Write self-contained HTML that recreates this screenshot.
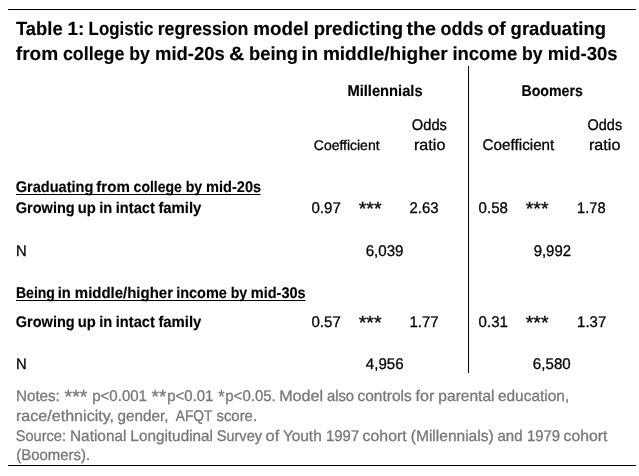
<!DOCTYPE html>
<html lang="en">
<head>
<meta charset="utf-8">
<title>Table 1: Logistic regression model</title>
<style>
html,body{margin:0;padding:0;background:#fff;}
svg{display:block;}
text{font-family:"Liberation Sans",sans-serif;white-space:pre;text-rendering:geometricPrecision;stroke-width:0.3px;stroke-linejoin:round;}
.b{font-weight:bold;stroke-width:0.15px;}
</style>
</head>
<body>
<svg width="639" height="476" viewBox="0 0 639 476">
<rect x="0" y="0" width="639" height="476" fill="#ffffff"/>
<rect x="8" y="9" width="628" height="1" fill="#000"/>
<rect x="8" y="465" width="628" height="1" fill="#000"/>
<rect x="468" y="66" width="1" height="307" fill="#000"/>
<rect x="16" y="194" width="244.5" height="1" fill="#000"/>
<rect x="16" y="300" width="289.5" height="1" fill="#000"/>
<text class="b" font-size="19" fill="#000" stroke="#000" xml:space="preserve"><tspan x="16" y="35" textLength="46.61" lengthAdjust="spacingAndGlyphs">Table</tspan> <tspan x="67.61" y="35" textLength="16.79" lengthAdjust="spacingAndGlyphs">1:</tspan> <tspan x="88.57" y="35" textLength="64.79" lengthAdjust="spacingAndGlyphs">Logistic</tspan> <tspan x="157.67" y="35" textLength="90.76" lengthAdjust="spacingAndGlyphs">regression</tspan> <tspan x="253.29" y="35" textLength="55.35" lengthAdjust="spacingAndGlyphs">model</tspan> <tspan x="313.63" y="35" textLength="89.34" lengthAdjust="spacingAndGlyphs">predicting</tspan> <tspan x="406.4" y="35" textLength="29.66" lengthAdjust="spacingAndGlyphs">the</tspan> <tspan x="440.55" y="35" textLength="42.93" lengthAdjust="spacingAndGlyphs">odds</tspan> <tspan x="487.51" y="35" textLength="18.33" lengthAdjust="spacingAndGlyphs">of</tspan> <tspan x="510.61" y="35" textLength="95.34" lengthAdjust="spacingAndGlyphs">graduating</tspan></text>
<text class="b" font-size="19" fill="#000" stroke="#000" xml:space="preserve"><tspan x="15.82" y="60" textLength="42.46" lengthAdjust="spacingAndGlyphs">from</tspan> <tspan x="62.95" y="60" textLength="61.52" lengthAdjust="spacingAndGlyphs">college</tspan> <tspan x="129.15" y="60" textLength="20.62" lengthAdjust="spacingAndGlyphs">by</tspan> <tspan x="155" y="60" textLength="69.71" lengthAdjust="spacingAndGlyphs">mid-20s</tspan> <tspan x="228.92" y="60" textLength="15.34" lengthAdjust="spacingAndGlyphs">&amp;</tspan> <tspan x="249" y="60" textLength="48.96" lengthAdjust="spacingAndGlyphs">being</tspan> <tspan x="301.53" y="60" textLength="16.42" lengthAdjust="spacingAndGlyphs">in</tspan> <tspan x="322.88" y="60" textLength="124.91" lengthAdjust="spacingAndGlyphs">middle/higher</tspan> <tspan x="452.39" y="60" textLength="64.82" lengthAdjust="spacingAndGlyphs">income</tspan> <tspan x="522" y="60" textLength="20.61" lengthAdjust="spacingAndGlyphs">by</tspan> <tspan x="547.69" y="60" textLength="69.8" lengthAdjust="spacingAndGlyphs">mid-30s</tspan></text>
<text class="b" font-size="15.5" fill="#000" stroke="#000" xml:space="preserve"><tspan x="347.44" y="96" textLength="75.19" lengthAdjust="spacingAndGlyphs">Millennials</tspan></text>
<text class="b" font-size="15.5" fill="#000" stroke="#000" xml:space="preserve"><tspan x="521.46" y="96" textLength="61.41" lengthAdjust="spacingAndGlyphs">Boomers</tspan></text>
<text font-size="15.4" fill="#000" stroke="#000" xml:space="preserve"><tspan x="411.84" y="130" textLength="35.11" lengthAdjust="spacingAndGlyphs">Odds</tspan></text>
<text font-size="15.4" fill="#000" stroke="#000" xml:space="preserve"><tspan x="414" y="150" textLength="31.36" lengthAdjust="spacingAndGlyphs">ratio</tspan></text>
<text font-size="14" fill="#000" stroke="#000" xml:space="preserve"><tspan x="313.8" y="150" textLength="65.76" lengthAdjust="spacingAndGlyphs">Coefficient</tspan></text>
<text font-size="15.4" fill="#000" stroke="#000" xml:space="preserve"><tspan x="482.58" y="150" textLength="71.76" lengthAdjust="spacingAndGlyphs">Coefficient</tspan></text>
<text font-size="15.4" fill="#000" stroke="#000" xml:space="preserve"><tspan x="587.6" y="130" textLength="34.53" lengthAdjust="spacingAndGlyphs">Odds</tspan></text>
<text font-size="15.4" fill="#000" stroke="#000" xml:space="preserve"><tspan x="589" y="150" textLength="31.35" lengthAdjust="spacingAndGlyphs">ratio</tspan></text>
<text class="b" font-size="15.5" fill="#000" stroke="#000" xml:space="preserve"><tspan x="15.73" y="192" textLength="77.69" lengthAdjust="spacingAndGlyphs">Graduating</tspan> <tspan x="96.3" y="192" textLength="33.5" lengthAdjust="spacingAndGlyphs">from</tspan> <tspan x="133.61" y="192" textLength="48.24" lengthAdjust="spacingAndGlyphs">college</tspan> <tspan x="185.64" y="192" textLength="16.5" lengthAdjust="spacingAndGlyphs">by</tspan> <tspan x="206" y="192" textLength="55.12" lengthAdjust="spacingAndGlyphs">mid-20s</tspan></text>
<text class="b" font-size="15.5" fill="#000" stroke="#000" xml:space="preserve"><tspan x="15.73" y="213" textLength="58.99" lengthAdjust="spacingAndGlyphs">Growing</tspan> <tspan x="77.7" y="213" textLength="18.07" lengthAdjust="spacingAndGlyphs">up</tspan> <tspan x="99.18" y="213" textLength="13.05" lengthAdjust="spacingAndGlyphs">in</tspan> <tspan x="115.78" y="213" textLength="39.01" lengthAdjust="spacingAndGlyphs">intact</tspan> <tspan x="158.41" y="213" textLength="42.96" lengthAdjust="spacingAndGlyphs">family</tspan></text>
<text font-size="15.4" fill="#000" stroke="#000" xml:space="preserve"><tspan x="311.46" y="213" textLength="29.32" lengthAdjust="spacingAndGlyphs">0.97</tspan></text>
<text font-size="19" fill="#000" stroke="#000" xml:space="preserve"><tspan x="358.69" y="215" textLength="22.96" lengthAdjust="spacingAndGlyphs">***</tspan></text>
<text font-size="15.4" fill="#000" stroke="#000" xml:space="preserve"><tspan x="409.5" y="213" textLength="28.93" lengthAdjust="spacingAndGlyphs">2.63</tspan></text>
<text font-size="15.4" fill="#000" stroke="#000" xml:space="preserve"><tspan x="478.62" y="213" textLength="29.32" lengthAdjust="spacingAndGlyphs">0.58</tspan></text>
<text font-size="19" fill="#000" stroke="#000" xml:space="preserve"><tspan x="525.65" y="215" textLength="22.87" lengthAdjust="spacingAndGlyphs">***</tspan></text>
<text font-size="15.4" fill="#000" stroke="#000" xml:space="preserve"><tspan x="577.1" y="213" textLength="28.44" lengthAdjust="spacingAndGlyphs">1.78</tspan></text>
<text font-size="15.4" fill="#000" stroke="#000" xml:space="preserve"><tspan x="16" y="256" textLength="10.67" lengthAdjust="spacingAndGlyphs">N</tspan></text>
<text font-size="15.4" fill="#000" stroke="#000" xml:space="preserve"><tspan x="365.68" y="256" textLength="37.86" lengthAdjust="spacingAndGlyphs">6,039</tspan></text>
<text font-size="15.4" fill="#000" stroke="#000" xml:space="preserve"><tspan x="533.66" y="256" textLength="37.32" lengthAdjust="spacingAndGlyphs">9,992</tspan></text>
<text class="b" font-size="15.5" fill="#000" stroke="#000" xml:space="preserve"><tspan x="15.96" y="298" textLength="38.99" lengthAdjust="spacingAndGlyphs">Being</tspan> <tspan x="57.77" y="298" textLength="13.05" lengthAdjust="spacingAndGlyphs">in</tspan> <tspan x="74.83" y="298" textLength="98.14" lengthAdjust="spacingAndGlyphs">middle/higher</tspan> <tspan x="176.18" y="298" textLength="50.69" lengthAdjust="spacingAndGlyphs">income</tspan> <tspan x="230.64" y="298" textLength="16.5" lengthAdjust="spacingAndGlyphs">by</tspan> <tspan x="250.76" y="298" textLength="54.85" lengthAdjust="spacingAndGlyphs">mid-30s</tspan></text>
<text class="b" font-size="15.5" fill="#000" stroke="#000" xml:space="preserve"><tspan x="15.73" y="327" textLength="58.99" lengthAdjust="spacingAndGlyphs">Growing</tspan> <tspan x="77.7" y="327" textLength="18.07" lengthAdjust="spacingAndGlyphs">up</tspan> <tspan x="99.18" y="327" textLength="13.05" lengthAdjust="spacingAndGlyphs">in</tspan> <tspan x="115.78" y="327" textLength="39.01" lengthAdjust="spacingAndGlyphs">intact</tspan> <tspan x="158.41" y="327" textLength="42.96" lengthAdjust="spacingAndGlyphs">family</tspan></text>
<text font-size="15.4" fill="#000" stroke="#000" xml:space="preserve"><tspan x="311.46" y="327" textLength="29.32" lengthAdjust="spacingAndGlyphs">0.57</tspan></text>
<text font-size="19" fill="#000" stroke="#000" xml:space="preserve"><tspan x="358.69" y="329" textLength="22.96" lengthAdjust="spacingAndGlyphs">***</tspan></text>
<text font-size="15.4" fill="#000" stroke="#000" xml:space="preserve"><tspan x="409.48" y="327" textLength="29.23" lengthAdjust="spacingAndGlyphs">1.77</tspan></text>
<text font-size="15.4" fill="#000" stroke="#000" xml:space="preserve"><tspan x="478.61" y="327" textLength="29.3" lengthAdjust="spacingAndGlyphs">0.31</tspan></text>
<text font-size="19" fill="#000" stroke="#000" xml:space="preserve"><tspan x="525.65" y="329" textLength="22.87" lengthAdjust="spacingAndGlyphs">***</tspan></text>
<text font-size="15.4" fill="#000" stroke="#000" xml:space="preserve"><tspan x="577.1" y="327" textLength="29.11" lengthAdjust="spacingAndGlyphs">1.37</tspan></text>
<text font-size="15.4" fill="#000" stroke="#000" xml:space="preserve"><tspan x="16" y="369" textLength="10.67" lengthAdjust="spacingAndGlyphs">N</tspan></text>
<text font-size="15.4" fill="#000" stroke="#000" xml:space="preserve"><tspan x="365.84" y="369" textLength="37.68" lengthAdjust="spacingAndGlyphs">4,956</tspan></text>
<text font-size="15.4" fill="#000" stroke="#000" xml:space="preserve"><tspan x="532.87" y="369" textLength="37.84" lengthAdjust="spacingAndGlyphs">6,580</tspan></text>
<text font-size="15.4" fill="#777777" stroke="#777777" xml:space="preserve"><tspan x="16" y="401" textLength="43.82" lengthAdjust="spacingAndGlyphs">Notes:</tspan> <tspan x="64.56" y="403" font-size="19" textLength="22.88" lengthAdjust="spacingAndGlyphs">***</tspan> <tspan x="92.23" y="401" textLength="54.75" lengthAdjust="spacingAndGlyphs">p&lt;0.001</tspan> <tspan x="151.55" y="403" font-size="19" textLength="14.7" lengthAdjust="spacingAndGlyphs">**</tspan><tspan x="167.28" y="401" textLength="46.16" lengthAdjust="spacingAndGlyphs">p&lt;0.01</tspan> <tspan x="218.14" y="403" font-size="19" textLength="6.35" lengthAdjust="spacingAndGlyphs">*</tspan><tspan x="225.25" y="401" textLength="50.55" lengthAdjust="spacingAndGlyphs">p&lt;0.05.</tspan> <tspan x="279.19" y="401" textLength="43.93" lengthAdjust="spacingAndGlyphs">Model</tspan> <tspan x="326.9" y="401" textLength="27.18" lengthAdjust="spacingAndGlyphs">also</tspan> <tspan x="357.51" y="401" textLength="54.25" lengthAdjust="spacingAndGlyphs">controls</tspan> <tspan x="415.51" y="401" textLength="18.83" lengthAdjust="spacingAndGlyphs">for</tspan> <tspan x="438.36" y="401" textLength="56.11" lengthAdjust="spacingAndGlyphs">parental</tspan> <tspan x="497.92" y="401" textLength="71.3" lengthAdjust="spacingAndGlyphs">education,</tspan></text>
<text font-size="15.4" fill="#777777" stroke="#777777" xml:space="preserve"><tspan x="16" y="421" textLength="98.05" lengthAdjust="spacingAndGlyphs">race/ethnicity,</tspan> <tspan x="117.55" y="421" textLength="50.88" lengthAdjust="spacingAndGlyphs">gender,</tspan>  <tspan x="175.79" y="421" textLength="36.32" lengthAdjust="spacingAndGlyphs">AFQT</tspan> <tspan x="216.44" y="421" textLength="40.61" lengthAdjust="spacingAndGlyphs">score.</tspan></text>
<text font-size="15.4" fill="#777777" stroke="#777777" xml:space="preserve"><tspan x="15.73" y="441" textLength="50.34" lengthAdjust="spacingAndGlyphs">Source:</tspan> <tspan x="70" y="441" textLength="56.42" lengthAdjust="spacingAndGlyphs">National</tspan> <tspan x="130.37" y="441" textLength="82.66" lengthAdjust="spacingAndGlyphs">Longitudinal</tspan> <tspan x="216.76" y="441" textLength="45.24" lengthAdjust="spacingAndGlyphs">Survey</tspan> <tspan x="265.63" y="441" textLength="13.68" lengthAdjust="spacingAndGlyphs">of</tspan> <tspan x="282.88" y="441" textLength="38.83" lengthAdjust="spacingAndGlyphs">Youth</tspan> <tspan x="326" y="441" textLength="33.2" lengthAdjust="spacingAndGlyphs">1997</tspan> <tspan x="362.58" y="441" textLength="44.12" lengthAdjust="spacingAndGlyphs">cohort</tspan> <tspan x="410.84" y="441" textLength="82.8" lengthAdjust="spacingAndGlyphs">(Millennials)</tspan> <tspan x="497.53" y="441" textLength="25.03" lengthAdjust="spacingAndGlyphs">and</tspan> <tspan x="527" y="441" textLength="33.14" lengthAdjust="spacingAndGlyphs">1979</tspan> <tspan x="563.59" y="441" textLength="43.74" lengthAdjust="spacingAndGlyphs">cohort</tspan></text>
<text font-size="15.4" fill="#777777" stroke="#777777" xml:space="preserve"><tspan x="16.34" y="460" textLength="73.71" lengthAdjust="spacingAndGlyphs">(Boomers).</tspan></text>
</svg>
</body>
</html>
